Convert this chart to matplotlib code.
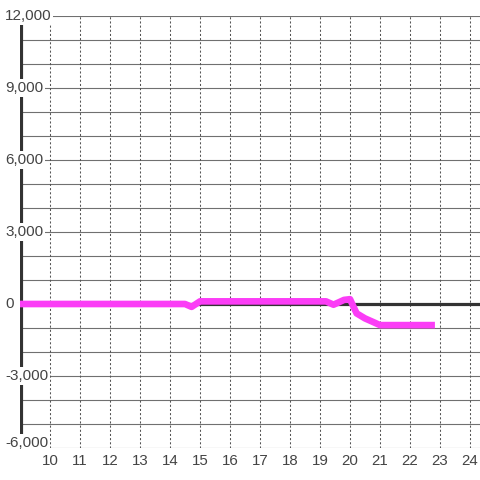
import matplotlib
matplotlib.use("Agg")
import matplotlib.pyplot as plt
import matplotlib.transforms as mtransforms

# data
x_vals = [9, 14.5, 14.72, 15.0, 19.2, 19.45, 19.8, 20.0, 20.22, 20.5, 20.77, 21.0, 22.83]
y_vals = [0, 0, -120, 110, 110, -30, 170, 200, -390, -600, -750, -880, -880]

y_ticks = [-6000, -3000, 0, 3000, 6000, 9000, 12000]
y_tick_labels = ["-6,000", "-3,000", "0", "3,000", "6,000", "9,000", "12,000"]
x_ticks = list(range(10, 25))

fig = plt.figure(figsize=(4.8, 4.8), dpi=100)
ax = fig.add_axes([20 / 480, 32 / 480, 460 / 480, 432 / 480])
ax.set_xlim(9, 24.333)
ax.set_ylim(-6000, 12000)
for s in ax.spines.values():
    s.set_visible(False)

# grid
for y in range(-6000, 12001, 1000):
    ax.axhline(y, color="#707070", lw=0.8, zorder=1)
for x in x_ticks:
    ax.axvline(x, color="#555555", lw=0.75, ls=(0, (2, 2)), zorder=1)

ax.axhline(0, color="#333333", lw=2.3, zorder=2)
ax.axvline(9.02, color="#333333", lw=3.0, zorder=2)

ax.plot(x_vals, y_vals, color="#fb3df6", lw=4.8, solid_capstyle="butt",
        solid_joinstyle="round", zorder=3)

ax.set_xticks([])
ax.set_yticks([])

trans = mtransforms.blended_transform_factory(fig.transFigure, ax.transData)
for v, lab in zip(y_ticks, y_tick_labels):
    va = "bottom" if v == -6000 else "center"
    yy = v - 80 if v == -6000 else v
    ax.text(5 / 480, yy, lab, transform=trans, ha="left", va=va,
            fontsize=11, family="Liberation Sans", color="#444444",
            bbox=dict(facecolor="white", edgecolor="none", pad=1.2), zorder=5,
            clip_on=False)

trans_x = mtransforms.blended_transform_factory(ax.transData, fig.transFigure)
for x in x_ticks:
    ax.text(x, 1 - 461 / 480, str(x), transform=trans_x, ha="center",
            va="center", fontsize=10.8, family="Liberation Sans",
            color="#444444", clip_on=False)

fig.savefig("out.png", dpi=100)
